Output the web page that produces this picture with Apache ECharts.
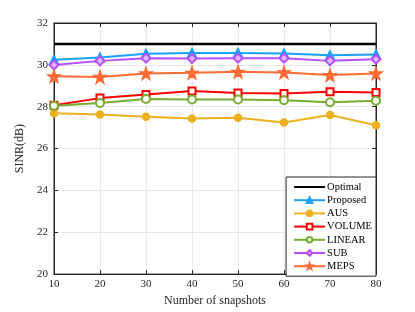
<!DOCTYPE html>
<html><head><meta charset="utf-8">
<script src="https://cdn.jsdelivr.net/npm/echarts@6/dist/echarts.min.js"></script>
<style>html,body{margin:0;padding:0;background:#fff}#c{width:415px;height:312px}</style>
</head><body><div id="c"></div>
<script>
const snapshots = [10, 20, 30, 40, 50, 60, 70, 80];
const optimal  = [31.0, 31.0, 31.0, 31.0, 31.0, 31.0, 31.0, 31.0];
const proposed = [30.24, 30.35, 30.53, 30.57, 30.57, 30.54, 30.46, 30.50];
const aus      = [27.69, 27.63, 27.52, 27.44, 27.47, 27.25, 27.60, 27.11];
const volume   = [28.07, 28.41, 28.58, 28.75, 28.65, 28.63, 28.71, 28.68];
const linear   = [28.04, 28.18, 28.37, 28.35, 28.35, 28.31, 28.21, 28.29];
const sub      = [29.99, 30.19, 30.32, 30.30, 30.32, 30.32, 30.19, 30.27];
const meps     = [29.45, 29.42, 29.59, 29.62, 29.67, 29.64, 29.51, 29.59];
const yTicks = [20, 22, 24, 26, 28, 30, 32];

const font = 'Liberation Serif, Times New Roman, serif';
function mk(name, data, color, symbol, size, extra) {
  return Object.assign({
    name, type: 'line', data: snapshots.map((x, i) => [x, data[i]]),
    symbol, symbolSize: size,
    lineStyle: { color, width: 2 },
    itemStyle: { color, borderColor: color, borderWidth: 1.5 },
    emphasis: { disabled: true }, animation: false
  }, extra || {});
}
const chart = echarts.init(document.getElementById('c'));
chart.setOption({
  animation: false,
  grid: { left: 54, right: 39, top: 23, bottom: 34, show: true, borderColor: '#262626', borderWidth: 1 },
  xAxis: [{
    type: 'value', min: 10, max: 80, interval: 10,
    name: 'Number of snapshots', nameLocation: 'middle', nameGap: 16,
    nameTextStyle: { fontFamily: font, fontSize: 12, color: '#262626' },
    axisLine: { lineStyle: { color: '#262626' } },
    axisTick: { inside: true, length: 4, lineStyle: { color: '#262626' } },
    axisLabel: { fontFamily: font, fontSize: 11, color: '#262626', margin: 5 },
    splitLine: { lineStyle: { color: '#e8e8e8' } }
  }, {
    type: 'value', min: 10, max: 80, interval: 10, position: 'top',
    axisLine: { lineStyle: { color: '#262626' } },
    axisTick: { inside: true, length: 4, lineStyle: { color: '#262626' } },
    axisLabel: { show: false }, splitLine: { show: false }
  }],
  yAxis: [{
    type: 'value', min: 20, max: 32, interval: 2,
    name: 'SINR(dB)', nameLocation: 'middle', nameGap: 26, nameRotate: 90,
    nameTextStyle: { fontFamily: font, fontSize: 12, color: '#262626' },
    axisLine: { lineStyle: { color: '#262626' } },
    axisTick: { inside: true, length: 4, lineStyle: { color: '#262626' } },
    axisLabel: { fontFamily: font, fontSize: 11, color: '#262626', margin: 6 },
    splitLine: { lineStyle: { color: '#e8e8e8' } }
  }, {
    type: 'value', min: 20, max: 32, interval: 2, position: 'right',
    axisLine: { show: true, lineStyle: { color: '#262626' } },
    axisTick: { show: true, inside: true, length: 4, lineStyle: { color: '#262626' } },
    axisLabel: { show: false }, splitLine: { show: false }
  }],
  legend: {
    orient: 'vertical', right: 39, top: 177,
    backgroundColor: '#fff', borderColor: '#262626', borderWidth: 1,
    padding: [4, 4, 4, 7], itemGap: 1.2, itemWidth: 31, itemHeight: 7,
    textStyle: { fontFamily: font, fontSize: 10.5, lineHeight: 12, color: '#000', padding: [0, 0, 0, -3] },
    data: [{ name: 'Optimal', itemStyle: { opacity: 0 } }, 'Proposed', 'AUS', 'VOLUME', 'LINEAR', 'SUB', 'MEPS']
  },
  series: [
    mk('Optimal', optimal, '#000000', 'none', 0, { lineStyle: { color: '#000', width: 2.5 } }),
    mk('Proposed', proposed, '#1AA0FF', 'triangle', 9),
    mk('AUS', aus, '#EDB120', 'circle', 7),
    mk('VOLUME', volume, '#FF0000', 'rect', 7, { itemStyle: { color: '#fff', borderColor: '#FF0000', borderWidth: 2 } }),
    mk('LINEAR', linear, '#77AC30', 'circle', 8, { itemStyle: { color: '#fff', borderColor: '#77AC30', borderWidth: 2 } }),
    mk('SUB', sub, '#B84DFF', 'diamond', 9, { itemStyle: { color: '#E0B8FF', borderColor: '#B84DFF', borderWidth: 2 } }),
    mk('MEPS', meps, '#FF6B35', 'path://M0,-10 L2.35,-3.24 L9.51,-3.09 L3.8,1.24 L5.88,8.09 L0,4 L-5.88,8.09 L-3.8,1.24 L-9.51,-3.09 L-2.35,-3.24 Z', 12)
  ]
});
</script></body></html>
